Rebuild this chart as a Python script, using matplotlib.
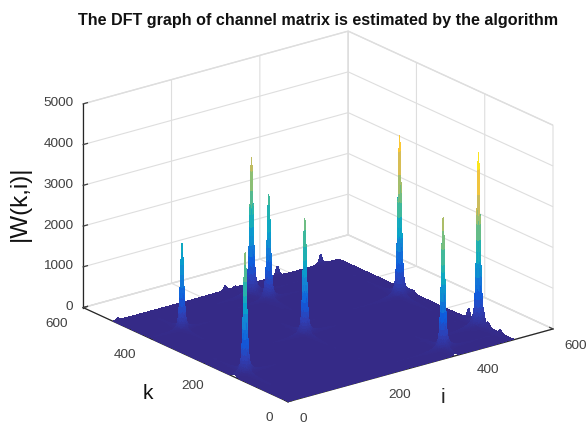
import numpy as np
import matplotlib
matplotlib.use('Agg')
import matplotlib.pyplot as plt
from matplotlib.colors import LinearSegmentedColormap
from mpl_toolkits.mplot3d import proj3d

TITLE = 'The DFT graph of channel matrix is estimated by the algorithm'
peak_i = [70, 276, 285, 229, 25, 480, 379, 500, 253, 371, 469, 511, 511, 511, 10]
peak_k = [401, 464, 425, 247, 158, 294, 36, 89, 511, 511, 511, 132, 75, 40, 511]
peak_h = [2130, 3380, 2600, 2870, 2980, 3970, 3260, 4290, 120, 250, 250, 250, 120, 80, 60]
profile_d = [0, 1, 2, 3, 4, 6, 8, 10, 14, 20, 30, 45, 70, 110, 600]
profile_f = [1, .95, .80, .62, .46, .26, .15, .10, .055, .035, .022, .013, .006, .003, .001]
x_ticks = [0, 200, 400, 600]
y_ticks = [0, 200, 400, 600]
z_ticks = [0, 1000, 2000, 3000, 4000, 5000]
parula = ['#352a87', '#2f3fb5', '#0f5cdd', '#1481d6', '#06a4ca', '#2eb7a4',
          '#87bf77', '#d1bb59', '#fec832', '#f9fb0e']

plt.rcParams['font.family'] = ['Liberation Sans', 'DejaVu Sans']
cmap = LinearSegmentedColormap.from_list('parula', parula)

def grid_axis(peaks):
    vals = set(range(1, 513, 6)) | {512}
    for p in peaks:
        vals |= set(range(p - 14, p + 15))
        vals |= set(range(p - 60, p + 61, 3))
    return np.array(sorted(v for v in vals if 1 <= v <= 512), dtype=float)

gi = grid_axis(peak_i)
gk = grid_axis(peak_k)
I, K = np.meshgrid(gi, gk)
Z = np.zeros_like(I)
for pi, pk, ph in zip(peak_i, peak_k, peak_h):
    Z += ph * np.interp(np.abs(I - pi), profile_d, profile_f) * np.interp(np.abs(K - pk), profile_d, profile_f)

W, H = 586, 423
fig = plt.figure(figsize=(W / 100, H / 100), dpi=100, facecolor='white')
ax = fig.add_axes([0, 0, 1, 1], projection='3d', proj_type='ortho')
ax.view_init(elev=20.8, azim=-127.7)
ax.set_box_aspect((335, 335, 218))
ax.plot_surface(I, K, Z, rstride=1, cstride=1, cmap=cmap, vmin=0, vmax=float(Z.max()),
                linewidth=0, antialiased=False, shade=False)
ax.set_xlim(0, 600); ax.set_ylim(0, 600); ax.set_zlim(0, 5000)
ax.set_xticks(x_ticks); ax.set_yticks(y_ticks); ax.set_zticks(z_ticks)

for axis in (ax.xaxis, ax.yaxis, ax.zaxis):
    axis.set_pane_color((1, 1, 1, 1))
    axis.pane.set_edgecolor('#dedede')
    axis.line.set_color('#262626')
    axis.line.set_linewidth(0.9)
    axis._axinfo['grid'].update(color='#dedede', linewidth=0.8)
    axis._axinfo['tick'].update(inward_factor=0.0, outward_factor=0.2, linewidth={True: 0.9, False: 0.5})
ax.tick_params(colors='#404040', labelsize=9.7, pad=3)
ax.zaxis.set_tick_params(pad=-4)
ax.zaxis.set_ticks_position('upper')
ax.zaxis.set_label_position('upper')
for axis in (ax.xaxis, ax.yaxis, ax.zaxis):
    axis.set_rotate_label(False)
plt.setp(ax.get_xticklabels(), ha='left', va='center')
plt.setp(ax.get_yticklabels(), ha='right', va='center')
plt.setp(ax.get_zticklabels(), ha='right', va='center')
ax.set_xlabel('i', fontsize=15, labelpad=-0.5, color='#262626')
ax.set_ylabel('k', fontsize=15, labelpad=6, color='#111111')
ax.set_zlabel('|W(k,i)|', fontsize=17.5, labelpad=4.5, rotation=90, color='#111111')

def place(s, cx, cy):
    ax.set_position([(cx - s / 2) / W, (cy - s / 2) / H, s / W, s / H])
    ax.apply_aspect()
    ax.M = ax.get_proj()

def pix(x, y, z):
    px, py, _ = proj3d.proj_transform(x, y, z, ax.M)
    return ax.transData.transform((px, py))

s, cx, cy = 500.0, W / 2, H / 2
place(s, cx, cy)
L = np.linalg.norm(pix(600, 0, 0) - pix(0, 0, 0))
s = s * 274.8 / L
place(s, cx, cy)
o = pix(0, 0, 0)
cx += 288 - o[0]
cy += (H - 401.7) - o[1]
place(s, cx, cy)

bb = ax.get_position()
tx = (318 - bb.x0 * W) / (bb.width * W)
ty = ((H - 33) - bb.y0 * H) / (bb.height * H)
ax.set_title(TITLE, fontsize=11.6, fontweight='bold', color='#111111')
ax.title.set_position((tx, ty))
ax._autotitlepos = False

fig.savefig('out.png', dpi=100)
